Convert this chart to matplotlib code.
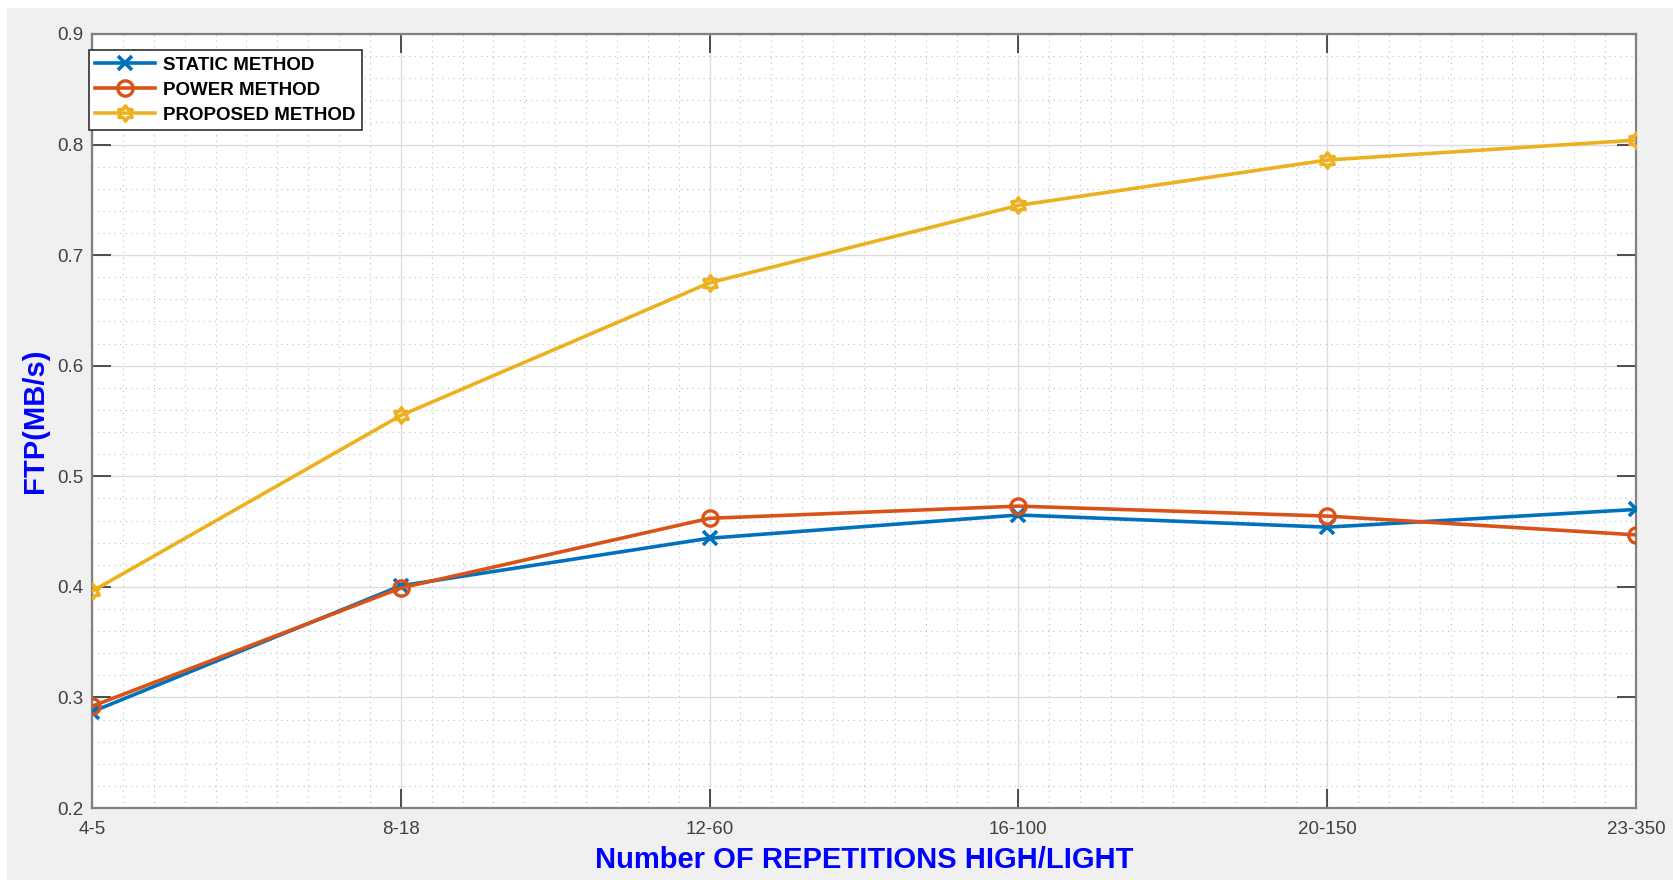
import numpy as np
import matplotlib
matplotlib.use("Agg")
import matplotlib.pyplot as plt
from matplotlib.path import Path
from matplotlib.ticker import MultipleLocator
from matplotlib.patches import Rectangle

plt.rcParams['font.family'] = ['Liberation Sans', 'DejaVu Sans']

categories = ['4-5', '8-18', '12-60', '16-100', '20-150', '23-350']
static_method = [0.287, 0.401, 0.444, 0.465, 0.454, 0.470]
power_method = [0.292, 0.399, 0.462, 0.473, 0.464, 0.447]
proposed_method = [0.396, 0.555, 0.675, 0.745, 0.786, 0.804]

# hexagram marker like matlab's
ang = np.pi / 2 + np.arange(12) * np.pi / 6
rad = np.where(np.arange(12) % 2 == 0, 1.0, 0.62)
verts = np.column_stack([rad * np.cos(ang), rad * np.sin(ang)])
verts = np.vstack([verts, verts[0]])
hexagram = Path(verts, [Path.MOVETO] + [Path.LINETO] * 11 + [Path.CLOSEPOLY])

fig = plt.figure(figsize=(16.74, 8.8), dpi=100)
fig.patch.set_facecolor('white')
fig.patches.append(Rectangle((7 / 1674, 0), 1, 1 - 8 / 880, transform=fig.transFigure,
                             facecolor='#f0f0f0', edgecolor='none', zorder=-10))
ax = fig.add_axes([0.05496, 0.0818, 0.9773 - 0.05496, 0.9614 - 0.0818])
ax.set_facecolor('white')

x = np.arange(1, len(categories) + 1)
ax.plot(x, static_method, color='#0072BD', lw=2.6, marker='x', ms=10, mew=2.6,
        label='STATIC METHOD', zorder=3)
ax.plot(x, power_method, color='#D95319', lw=2.6, marker='o', ms=11, mew=2.4,
        mfc='none', label='POWER METHOD', zorder=3)
ax.plot(x, proposed_method, color='#EDB120', lw=2.6, marker=hexagram, ms=11, mew=2.6,
        mfc='none', label='PROPOSED METHOD', zorder=3)

ax.set_xlim(1, 6)
ax.set_ylim(0.2, 0.9)
ax.set_xticks(x)
ax.set_xticklabels(categories)
ax.xaxis.set_minor_locator(MultipleLocator(0.1))
ax.yaxis.set_major_locator(MultipleLocator(0.1))
ax.yaxis.set_minor_locator(MultipleLocator(0.02))
ax.yaxis.set_major_formatter(plt.FuncFormatter(lambda v, p: f'{v:g}'))

ax.grid(which='major', color='#dcdcdc', lw=1.0)
ax.grid(which='minor', color='#bdbdbd', lw=0.8, ls=(0, (1, 4)))
ax.set_axisbelow(True)

for s in ax.spines.values():
    s.set_color('#808080')
    s.set_linewidth(1.6)
ax.tick_params(which='major', direction='in', length=14, width=1.3, color='#404040',
               labelsize=13.5, labelcolor='#404040', top=True, right=True, pad=6)
ax.tick_params(axis='x', which='major', pad=9)
ax.tick_params(which='minor', length=0)

ax.set_xlabel('Number OF REPETITIONS HIGH/LIGHT', color='blue', fontsize=21,
              fontweight='bold', labelpad=6)
ax.set_ylabel('FTP(MB/s)', color='blue', fontsize=21, fontweight='bold', labelpad=6)

leg = ax.legend(loc='upper left', bbox_to_anchor=(-0.002, 0.979),
                prop={'weight': 'bold', 'size': 13.5}, fancybox=False, framealpha=1,
                edgecolor='#303030', handlelength=3.2, handletextpad=0.4,
                borderpad=0.35, labelspacing=0.42, borderaxespad=0)
leg.get_frame().set_linewidth(1.2)

fig.savefig('out.png', dpi=100)
